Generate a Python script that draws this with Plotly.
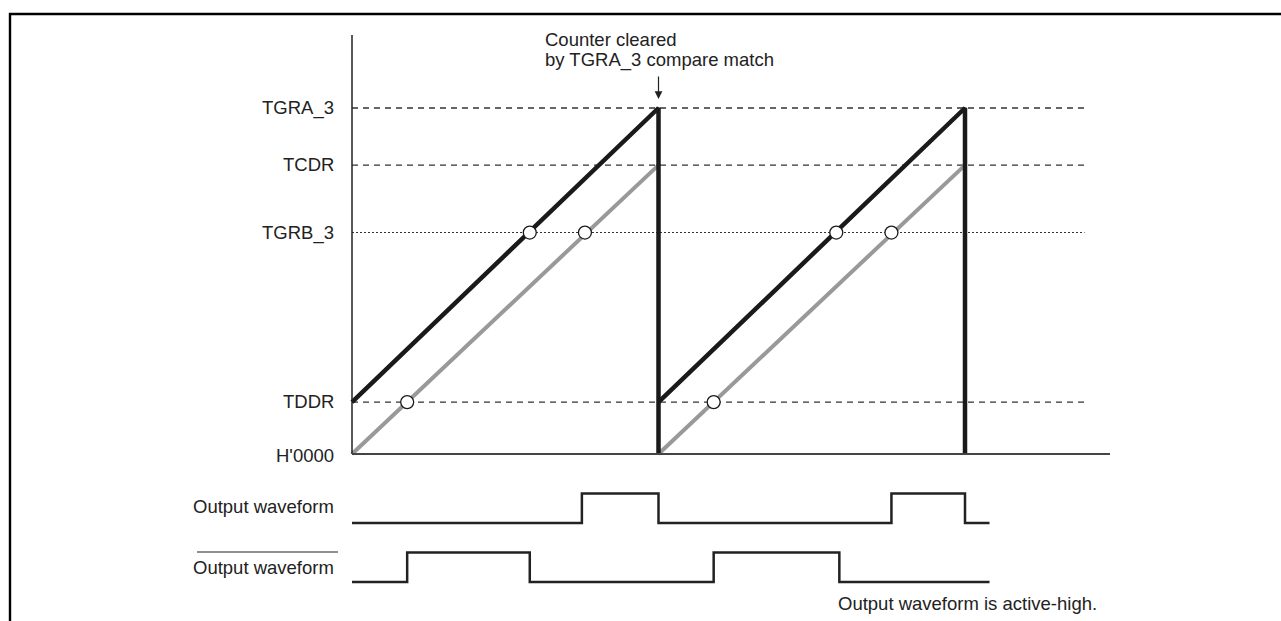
import plotly.graph_objects as go

# counter levels (arbitrary units, H'0000 = 0)
level_names = ["TGRA_3", "TCDR", "TGRB_3", "TDDR", "H'0000"]
level_values = [100, 83.5, 64, 15, 0]

# time in counter periods (one clear every 1.0)
black_t = [0, 1, 1, None, 1, 2, 2]
black_v = [15, 100, 0, None, 15, 100, 0]
gray_t = [0, 1, None, 1, 2]
gray_v = [0, 83.5, None, 0, 83.5]

# compare-match points
match_t = [0.58, 0.76, 0.18, 1.58, 1.76, 1.18]
match_v = [64, 64, 15, 64, 64, 15]

# output waveforms (transition times, levels)
out_t = [0, 0.75, 1.0, 1.76, 2.0, 2.08]
out_lvl = [0, 1, 0, 1, 0, 0]
inv_t = [0, 0.18, 0.58, 1.18, 1.59, 2.08]
inv_lvl = [0, 1, 0, 1, 0, 0]

W, H = 1281, 621
X0, XS = 352, 306.5        # px of t=0, px per period
Y0, YS = 454, 3.46         # px of counter 0, px per unit
INK = "#222222"
FONT = "Liberation Sans, Arial, sans-serif"


def px(x):
    return x / W


def py(y):
    return 1 - y / H


fig = go.Figure()

# level guide lines
for name, v in zip(level_names[:-1], level_values[:-1]):
    dotted = name == "TGRB_3"
    fig.add_trace(go.Scatter(
        x=[0, 2.39], y=[v, v], mode="lines",
        line=dict(color="#333333", width=1.1 if dotted else 1.3,
                  dash="2px,2px" if dotted else "6px,5px"),
        hoverinfo="skip"))

fig.add_trace(go.Scatter(x=gray_t, y=gray_v, mode="lines",
                         line=dict(color="#999999", width=4)))
fig.add_trace(go.Scatter(x=black_t, y=black_v, mode="lines",
                         line=dict(color="#1a1a1a", width=4.5)))
fig.add_trace(go.Scatter(x=match_t, y=match_v, mode="markers",
                         marker=dict(size=13, color="white",
                                     line=dict(color="#1a1a1a", width=1.3))))

fig.add_trace(go.Scatter(x=out_t, y=out_lvl, mode="lines", yaxis="y2",
                         line=dict(color=INK, width=2.5, shape="hv")))
fig.add_trace(go.Scatter(x=inv_t, y=inv_lvl, mode="lines", yaxis="y3",
                         line=dict(color=INK, width=2.5, shape="hv")))

# axes
shapes = [
    dict(type="line", xref="x", yref="y", x0=0, x1=0, y0=0,
         y1=(Y0 - 35) / YS, line=dict(color=INK, width=1.5)),
    dict(type="line", xref="x", yref="y", x0=0, x1=2.473, y0=0, y1=0,
         line=dict(color="#444444", width=2)),
    # overline on inverted output label
    dict(type="line", xref="paper", yref="paper", x0=px(197), x1=px(338),
         y0=py(552), y1=py(552), line=dict(color=INK, width=1.2)),
    # frame
    dict(type="rect", xref="paper", yref="paper", x0=px(10), x1=1.02,
         y0=-0.02, y1=py(14), line=dict(color="black", width=2.4)),
]

annotations = []
label_y = [108, 164, 233, 401, 455]
for name, y in zip(level_names, label_y):
    annotations.append(dict(text=name, x=px(336), y=py(y), xref="paper",
                            yref="paper", xanchor="right", yanchor="middle",
                            showarrow=False))
for y in [506, 567]:
    annotations.append(dict(text="Output waveform", x=px(336), y=py(y),
                            xref="paper", yref="paper", xanchor="right",
                            yanchor="middle", showarrow=False))
annotations += [
    dict(text="Counter cleared", x=px(543), y=py(39), xref="paper",
         yref="paper", xanchor="left", yanchor="middle", showarrow=False),
    dict(text="by TGRA_3 compare match", x=px(543), y=py(60), xref="paper",
         yref="paper", xanchor="left", yanchor="middle", showarrow=False),
    dict(text="Output waveform is active-high.", x=px(836), y=py(603),
         xref="paper", yref="paper", xanchor="left", yanchor="middle",
         showarrow=False),
    dict(text="", x=1.0, y=(Y0 - 99) / YS, xref="x", yref="y",
         showarrow=True, ax=0, ay=-24, arrowhead=2, arrowsize=1.3,
         arrowwidth=1.2, arrowcolor=INK),
]

fig.update_layout(
    width=W, height=H,
    margin=dict(l=0, r=0, t=0, b=0),
    paper_bgcolor="white", plot_bgcolor="white",
    showlegend=False,
    font=dict(family=FONT, size=18.5, color=INK),
    xaxis=dict(visible=False, range=[-X0 / XS, (W - X0) / XS], fixedrange=True),
    yaxis=dict(visible=False, range=[(Y0 - H) / YS, Y0 / YS], fixedrange=True),
    yaxis2=dict(visible=False, overlaying="y", range=[(523 - H) / 29.5, 523 / 29.5]),
    yaxis3=dict(visible=False, overlaying="y", range=[(582 - H) / 29.5, 582 / 29.5]),
    shapes=shapes,
    annotations=annotations,
)

fig.write_html("out.html", config={"displayModeBar": False},
               post_script="document.body.style.margin='0';"
                           "document.body.style.overflow='hidden';")
